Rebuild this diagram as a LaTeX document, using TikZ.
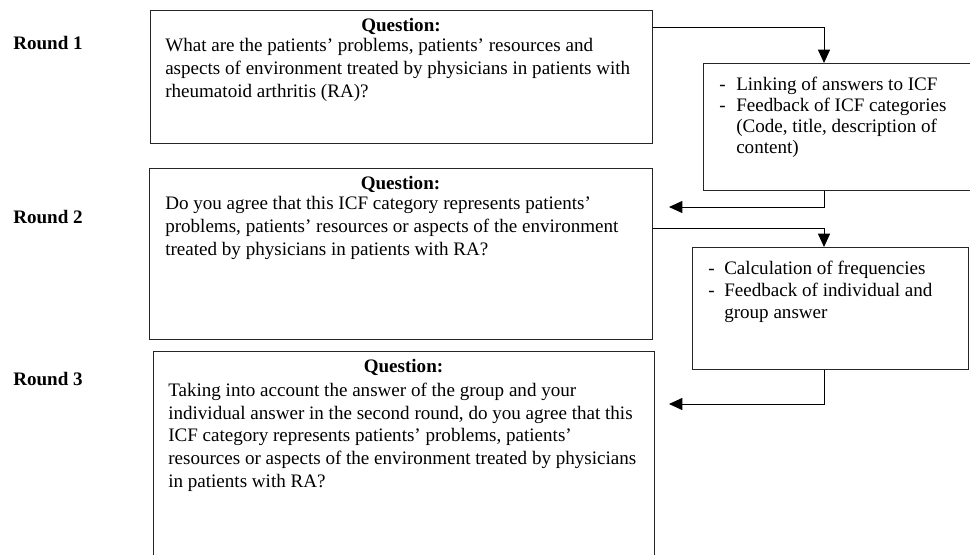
\documentclass[tikz,border=0pt]{standalone}
\usepackage{fontspec}
\setmainfont{Liberation Serif}
\usetikzlibrary{arrows.meta,calc}
\begin{document}
\begin{tikzpicture}[x=0.75pt,y=-0.75pt,
  box/.style={draw=black!85, line width=0.75pt, rectangle, inner sep=0pt, anchor=north west},
  conn/.style={line width=0.75pt, -{Triangle[length=10pt,width=9pt]}},
  qtitle/.style={font=\fontsize{14.3}{16.9}\selectfont\bfseries, anchor=base, inner sep=0pt},
  qbody/.style={font=\fontsize{14.3}{16.9}\selectfont, align=left, anchor=base west, inner sep=0pt},
  lbody/.style={font=\fontsize{14.3}{15.6}\selectfont, align=left, anchor=base west, inner sep=0pt},
  mbody/.style={font=\fontsize{14.3}{16.5}\selectfont, align=left, anchor=base west, inner sep=0pt},
  roundlbl/.style={font=\fontsize{14.3}{16}\selectfont\bfseries, anchor=base west, inner sep=0pt}]
\useasboundingbox (0,0) rectangle (970,554);
\clip (0,0) rectangle (970,554);
\fill[white] (0,0) rectangle (970,554);

% round labels
\node[roundlbl] (r1) at (13,49) {Round 1};
\node[roundlbl] (r2) at (13,223) {Round 2};
\node[roundlbl] (r3) at (13,385) {Round 3};

% question boxes
\node[box, minimum width=376.5pt, minimum height=99.75pt] (box1) at (150,10) {};
\node[box, minimum width=377.25pt, minimum height=128.25pt] (box2) at (149,168) {};
\node[box, minimum width=375.75pt, minimum height=172.5pt] (box3) at (153,351) {};

% (multi-line nodes: base = baseline of the last line)
\node[qtitle] (q1t) at (401,31) {Question:};
\node[qbody] (q1b) at (165,97) {What are the patients’ problems, patients’ resources and\\aspects of environment treated by physicians in patients with\\rheumatoid arthritis (RA)?};

\node[qtitle] (q2t) at (400.5,189) {Question:};
\node[qbody] (q2b) at (165,255) {Do you agree that this ICF category represents patients’\\problems, patients’ resources or aspects of the environment\\treated by physicians in patients with RA?};

\node[qtitle] (q3t) at (403.5,372) {Question:};
\node[qbody] (q3b) at (168,487) {Taking into account the answer of the group and your\\individual answer in the second round, do you agree that this\\ICF category represents patients’ problems, patients’\\resources or aspects of the environment treated by physicians\\in patients with RA?};

% feedback boxes
\node[box, minimum width=225pt, minimum height=95.25pt] (boxA) at (703,63) {};
\node[box, minimum width=207pt, minimum height=91.5pt] (boxB) at (692,247) {};

\node[lbody] (la) at (719,153) {\makebox[12.75pt][l]{-}Linking of answers to ICF\\\makebox[12.75pt][l]{-}Feedback of ICF categories\\\hspace*{12.75pt}(Code, title, description of\\\hspace*{12.75pt}content)};
\node[mbody] (lb) at (708,318) {\makebox[12pt][l]{-}Calculation of frequencies\\\makebox[12pt][l]{-}Feedback of individual and\\\hspace*{12pt}group answer};

% connectors
\coordinate (cx) at (824,0);
\coordinate (t1) at (669,207);
\coordinate (t2) at (669,404);
\draw[conn] ($(box1.north east)+(0,17)$) -| (cx |- boxA.north);
\draw[conn] (cx |- boxA.south) |- (t1);
\draw[conn] ($(box2.north east)+(0,60)$) -| (cx |- boxB.north);
\draw[conn] (cx |- boxB.south) |- (t2);
\end{tikzpicture}
\end{document}
